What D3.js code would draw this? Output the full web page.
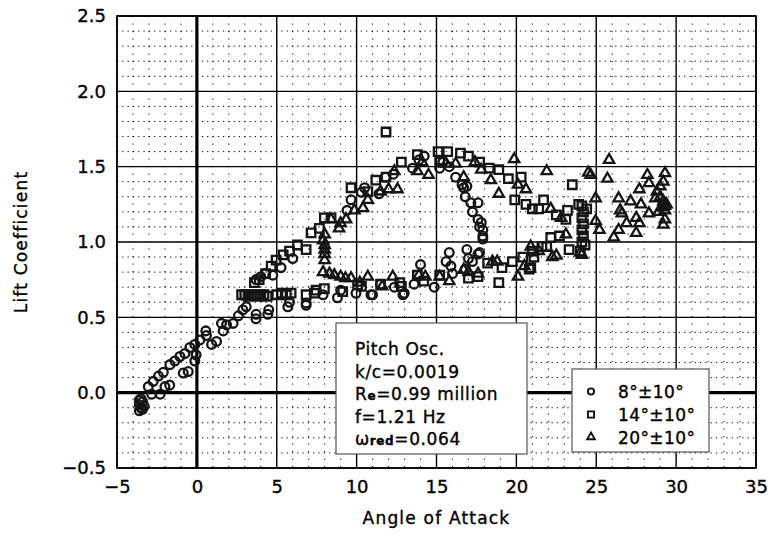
<!DOCTYPE html>
<html><head><meta charset="utf-8">
<script src="https://cdn.jsdelivr.net/npm/d3@7"></script>
<style>
body{margin:0;background:#fff}
svg{display:block}
text{font-family:"DejaVu Sans",sans-serif;fill:#000;stroke:#000;stroke-width:0.35px}
</style>
</head><body>
<svg id="chart" width="770" height="534"></svg>
<script>
// ---- data (Angle of Attack, Lift Coefficient) ----
const seriesNames = ["8°±10°", "14°±10°", "20°±10°"];
const xTickValues = [-5, 0, 5, 10, 15, 20, 25, 30, 35];
const yTickValues = [-0.5, 0.0, 0.5, 1.0, 1.5, 2.0, 2.5];
const annotationLines = ["Pitch Osc.", "k/c=0.0019", "Re=0.99 million", "f=1.21 Hz", "ωred=0.064"];

const circlePoints = [
  [-3.6,-0.12],[-3.5,-0.10],[-3.6,-0.08],[-3.4,-0.06],[-3.5,-0.04],[-3.3,-0.09],[-3.6,-0.05],[-3.4,-0.11],
  [-3.04,0.04],[-2.73,0.075],[-2.4,0.11],[-2.1,0.135],[-1.69,0.186],[-1.38,0.21],[-1.06,0.24],[-0.75,0.26],
  [-0.44,0.30],[-0.13,0.32],[0.19,0.35],[0.56,0.41],[0.6,0.38],
  [-2.83,-0.01],[-2.3,-0.01],[-2.0,0.04],[-1.7,0.05],[-0.85,0.13],[-0.54,0.14],[-0.13,0.21],[-0.05,0.25],
  [0.92,0.32],[1.23,0.34],[1.65,0.41],[1.86,0.45],[1.54,0.46],[2.27,0.46],[2.6,0.51],
  [2.88,0.55],[3.09,0.57],[3.71,0.52],[3.7,0.49],[4.44,0.52],[4.5,0.55],[3.7,0.75],[4.0,0.77],[4.3,0.79],
  [4.75,0.78],[5.27,0.83],[6.0,0.89],[5.69,0.57],[5.8,0.60],[6.84,0.58],[6.84,0.595],[7.9,0.65],[8.8,0.63],
  [9.4,1.21],[9.65,1.28],[10.3,1.33],[10.5,1.36],[11.4,1.32],[11.8,1.43],[12.3,1.45],[13.5,1.49],[13.9,1.545],
  [14.23,1.57],[15.2,1.49],[15.4,1.53],[15.8,1.50],[16.2,1.43],[16.6,1.38],[16.7,1.36],[16.9,1.37],[16.8,1.30],
  [17.15,1.26],[17.6,1.26],[17.25,1.20],[17.6,1.15],[17.8,1.13],[17.7,1.10],[17.9,1.08],[17.9,1.04],[17.9,1.02],
  [16.9,0.95],[17.0,0.89],[17.6,0.92],[17.7,0.93],[17.25,0.87],[16.8,0.82],[16.0,0.79],[15.8,0.93],[15.6,0.87],
  [15.9,0.84],[14.0,0.85],[14.86,0.70],[12.98,0.66],[12.9,0.65],[12.36,0.70],[10.9,0.65],[11.0,0.65],
  [9.96,0.66],[9.0,0.68],[11.5,0.72],[13.6,0.72]
];

const squarePoints = [
  [2.8,0.65],[3.0,0.65],[3.2,0.64],[3.4,0.65],[3.6,0.65],[3.8,0.64],[4.0,0.65],[4.2,0.65],[4.4,0.64],
  [5.0,0.65],[5.3,0.66],[5.6,0.65],[5.9,0.66],
  [3.6,0.73],[3.9,0.75],[4.3,0.79],[4.65,0.84],[4.96,0.88],[5.4,0.915],[5.8,0.94],[6.3,0.98],[6.84,0.95],
  [7.15,1.06],[7.67,1.09],[7.98,1.16],[8.4,1.16],[9.65,1.36],[10.7,1.335],[11.2,1.41],[11.84,1.43],
  [12.8,1.53],[13.8,1.58],[15.1,1.60],[15.7,1.60],[15.2,1.53],[16.5,1.59],[17.0,1.57],[17.7,1.53],
  [18.3,1.49],[18.9,1.48],[19.5,1.42],[20.3,1.43],[19.9,1.28],[20.6,1.25],[21.0,1.22],[21.4,1.22],
  [21.7,1.28],[22.5,1.18],[23.2,1.21],[23.9,1.25],[23.5,1.38],[23.1,1.15],[24.1,1.24],[24.2,1.20],
  [24.1,1.16],[24.2,1.12],[24.1,1.08],[24.2,1.04],[24.1,1.00],[24.3,0.98],[24.4,1.22],
  [11.84,1.73],
  [24.0,0.94],[23.3,0.95],[22.15,1.03],[22.7,1.04],[21.9,0.97],[21.6,0.97],[21.1,0.90],[21.0,0.94],
  [20.4,0.90],[19.75,0.87],[20.9,0.83],[20.8,0.82],[19.1,0.83],[18.2,0.86],[17.6,0.77],[18.9,0.73],
  [17.0,0.76],[15.2,0.78],[14.2,0.74],[13.8,0.78],[12.7,0.73],[12.8,0.705],[10.3,0.705],[10.06,0.716],
  [9.13,0.67],[7.98,0.69],[7.46,0.68],[6.84,0.65],[7.36,0.66],[11.5,0.72]
];

const trianglePoints = [
  [8.0,1.05],[7.9,1.01],[8.0,0.98],[8.0,0.95],[8.0,0.92],[8.0,0.88],[7.9,0.80],[8.3,0.79],[8.6,0.78],
  [9.0,0.77],[9.3,0.76],
  [8.4,1.15],[8.9,1.09],[9.0,1.125],[9.34,1.15],[9.86,1.21],[10.4,1.225],[10.7,1.28],[11.5,1.335],
  [12.0,1.35],[12.56,1.35],[12.36,1.47],[13.8,1.47],[14.5,1.445],[14.1,1.53],[15.6,1.52],[16.2,1.52],
  [16.7,1.43],[17.4,1.53],[17.8,1.48],[18.4,1.41],[19.86,1.55],[20.1,1.38],[18.9,1.32],[20.6,1.35],
  [21.9,1.47],[24.5,1.46],[22.15,1.22],[22.8,1.16],[23.1,1.05],[25.8,1.545],[24.65,1.445],[25.7,1.42],
  [24.96,1.29],[26.4,1.29],[27.15,1.27],[27.8,1.25],[26.5,1.21],[26.6,1.19],[24.96,1.14],[25.2,1.08],
  [26.4,1.08],[26.1,1.03],[26.9,1.125],[27.5,1.16],[27.7,1.125],[27.5,1.06],[28.2,1.445],[28.3,1.39],
  [27.7,1.35],[29.3,1.457],[29.2,1.40],[29.0,1.37],[28.8,1.335],[28.7,1.29],[29.0,1.30],[29.2,1.27],
  [29.3,1.24],[29.3,1.21],[28.3,1.19],[28.9,1.20],[29.3,1.15],[29.2,1.115],[29.4,1.25],[29.1,1.23],
  [24.1,0.915],[24.0,0.93],[22.25,0.90],[22.5,0.91],[21.4,0.94],[20.9,0.97],[20.5,0.84],[20.1,0.77],
  [18.8,0.87],[18.5,0.87],[17.6,0.79],[17.0,0.80],[16.7,0.815],[15.8,0.74],[15.2,0.77],[13.9,0.78],
  [14.3,0.77],[12.26,0.77],[11.6,0.705],[10.7,0.77],[10.2,0.73],[9.65,0.76]
];

// ---- layout ----
const svg = d3.select("#chart");
const L = 117, R = 756, T = 16, B = 468;
const x = d3.scaleLinear().domain([-5, 35]).range([L, R]);
const y = d3.scaleLinear().domain([-0.5, 2.5]).range([B, T]);

const g = svg.append("g");

// minor dotted grid
const minorX = d3.range(-4, 35).filter(v => v % 5 !== 0);
const minorY = d3.range(-4, 25).map(v => v / 10).filter(v => Math.abs(Math.round(v * 10)) % 5 !== 0);
g.selectAll("line.mx").data(minorX).join("line")
  .attr("x1", d => x(d)).attr("x2", d => x(d)).attr("y1", T).attr("y2", B)
  .attr("stroke", "#000").attr("stroke-width", 1).attr("stroke-dasharray", "1.2,6.3");
g.selectAll("line.my").data(minorY).join("line")
  .attr("x1", L).attr("x2", R).attr("y1", d => y(d)).attr("y2", d => y(d))
  .attr("stroke", "#000").attr("stroke-width", 1).attr("stroke-dasharray", "1.2,4.1");

// major grid
g.selectAll("line.Mx").data(xTickValues.filter(v => v !== 0)).join("line")
  .attr("x1", d => x(d)).attr("x2", d => x(d)).attr("y1", T).attr("y2", B)
  .attr("stroke", "#000").attr("stroke-width", 1.4);
g.selectAll("line.My").data(yTickValues.filter(v => v !== 0)).join("line")
  .attr("x1", L).attr("x2", R).attr("y1", d => y(d)).attr("y2", d => y(d))
  .attr("stroke", "#000").attr("stroke-width", 1.4);
// zero lines
g.append("line").attr("x1", x(0)).attr("x2", x(0)).attr("y1", T).attr("y2", B)
  .attr("stroke", "#000").attr("stroke-width", 3.2);
g.append("line").attr("x1", L).attr("x2", R).attr("y1", y(0)).attr("y2", y(0))
  .attr("stroke", "#000").attr("stroke-width", 3.2);
// frame
g.append("rect").attr("x", L).attr("y", T).attr("width", R - L).attr("height", B - T)
  .attr("fill", "none").attr("stroke", "#000").attr("stroke-width", 1.6);

// axes tick labels via d3 axes (no tick lines)
const xAxis = d3.axisBottom(x).tickValues(xTickValues).tickSize(0).tickPadding(12)
  .tickFormat(d => d3.format("d")(d));
const yAxis = d3.axisLeft(y).tickValues(yTickValues).tickSize(0).tickPadding(11)
  .tickFormat(d3.format(".1f"));
const gx = svg.append("g").attr("transform", `translate(0,${B})`).call(xAxis);
const gy = svg.append("g").attr("transform", `translate(${L},0)`).call(yAxis);
[gx, gy].forEach(a => {
  a.select(".domain").remove();
  a.selectAll("text").attr("font-family", "DejaVu Sans, sans-serif").attr("font-size", 18).attr("fill", "#000");
});
gx.selectAll("text").attr("dy", "0.71em");

// axis titles
svg.append("text").attr("x", (L + R) / 2).attr("y", 524).attr("text-anchor", "middle")
  .attr("font-size", 17).attr("letter-spacing", 1.2).text("Angle of Attack");
svg.append("text").attr("transform", `translate(27,${(T + B) / 2}) rotate(-90)`).attr("text-anchor", "middle")
  .attr("font-size", 17).attr("letter-spacing", 1.2).text("Lift Coefficient");

// markers
const mark = svg.append("g").attr("fill", "none").attr("stroke", "#151515").attr("stroke-width", 2.3);
const symCircle = d3.symbol().type(d3.symbolCircle).size(60);
const symSquare = d3.symbol().type(d3.symbolSquare).size(72);
const symTri = d3.symbol().type(d3.symbolTriangle).size(46);
function drawSeries(data, sym, cls) {
  mark.selectAll("path." + cls).data(data).join("path").attr("class", cls)
    .attr("transform", d => `translate(${x(d[0])},${y(d[1])})`).attr("d", sym);
}
drawSeries(circlePoints, symCircle, "c");
drawSeries(squarePoints, symSquare, "s");
drawSeries(trianglePoints, symTri, "t");

// annotation box
const ab = svg.append("g");
ab.append("rect").attr("x", 336).attr("y", 323).attr("width", 191).attr("height", 131)
  .attr("fill", "#fff").attr("stroke", "#555").attr("stroke-width", 1.2);
const annY = [355, 377.5, 400, 422.5, 445];
const at = (i) => ab.append("text").attr("x", 355).attr("y", annY[i]).attr("font-size", 17).attr("letter-spacing", 0.6);
at(0).text(annotationLines[0]);
at(1).text(annotationLines[1]);
{ const t = at(2); t.append("tspan").text("R"); t.append("tspan").attr("font-size", 12).attr("font-weight", "bold").text("e");
  t.append("tspan").text("=0.99 million"); }
at(3).text(annotationLines[3]);
{ const t = at(4); t.append("tspan").text("ω"); t.append("tspan").attr("font-size", 12).attr("font-weight", "bold").text("red");
  t.append("tspan").text("=0.064"); }

// legend
const lg = svg.append("g");
lg.append("rect").attr("x", 572).attr("y", 369).attr("width", 137).attr("height", 83)
  .attr("fill", "#fff").attr("stroke", "#555").attr("stroke-width", 1.2);
const legendSyms = [d3.symbol().type(d3.symbolCircle).size(30), d3.symbol().type(d3.symbolSquare).size(38), d3.symbol().type(d3.symbolTriangle).size(26)];
const legY = [391.5, 414.5, 437];
seriesNames.forEach((name, i) => {
  lg.append("path").attr("transform", `translate(591,${legY[i]})`).attr("d", legendSyms[i])
    .attr("fill", "none").attr("stroke", "#111").attr("stroke-width", 1.9);
  lg.append("text").attr("x", 618).attr("y", legY[i] + 6.5).attr("font-size", 17).attr("letter-spacing", 0.4).text(name);
});
</script>
</body></html>
